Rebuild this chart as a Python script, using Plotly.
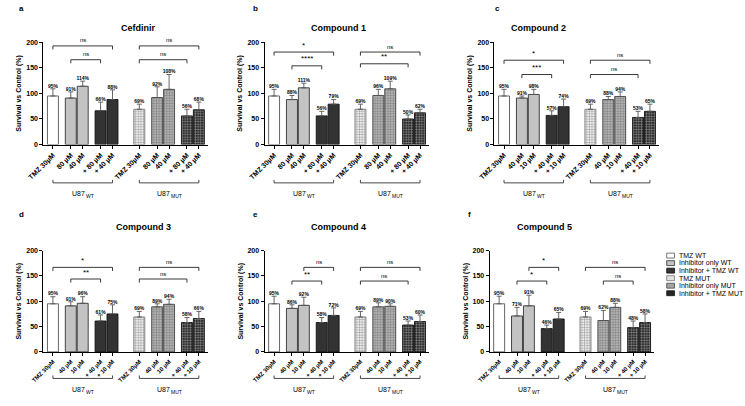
import plotly.graph_objects as go

W, H = 745, 406
FONT = "Liberation Sans, Arial, sans-serif"

# ---------------- data ----------------
panel_letters = ["a", "b", "c", "d", "e", "f"]
panel_titles = ["Cefdinir", "Compound 1", "Compound 2", "Compound 3", "Compound 4", "Compound 5"]

labels_hi = ["TMZ 30µM", "80 µM", "40 µM", "+ 80 µM", "+ 40 µM"]
labels_lo = ["TMZ 30µM", "40 µM", "10 µM", "+ 40 µM", "+ 10 µM"]
tick_labels = [labels_hi * 2, labels_hi * 2, labels_lo * 2, labels_lo * 2, labels_lo * 2, labels_lo * 2]

vals_a = [95, 91, 114, 66, 88, 69, 92, 108, 56, 68]
vals_b = [95, 88, 111, 56, 79, 69, 96, 109, 50, 62]
vals_c = [95, 91, 98, 57, 74, 69, 88, 94, 53, 65]
vals_d = [95, 91, 96, 61, 75, 69, 89, 94, 58, 66]
vals_e = [95, 86, 92, 58, 72, 69, 89, 90, 53, 60]
vals_f = [95, 71, 91, 46, 65, 69, 62, 88, 48, 58]

err_a = [14, 12, 10, 17, 19, 10, 21, 29, 13, 15]
err_b = [13, 8, 9, 9, 9, 10, 12, 15, 8, 7]
err_c = [13, 4, 10, 9, 15, 10, 6, 9, 12, 14]
err_d = [14, 8, 13, 12, 18, 11, 6, 10, 10, 14]
err_e = [15, 7, 16, 10, 15, 11, 8, 5, 8, 13]
err_f = [15, 17, 21, 7, 13, 11, 20, 8, 13, 17]

# significance comparisons: (bar i, bar j, level, label)
sig_a = [(0, 4, 193, "ns"), (1, 3, 166, "ns"), (5, 9, 193, "ns"), (5, 8, 166, "ns")]
sig_b = [(0, 4, 181, "*"), (1, 3, 154, "****"), (5, 9, 181, "ns"), (5, 8, 158, "**")]
sig_c = [(0, 4, 165, "*"), (1, 3, 137, "***"), (5, 9, 165, "ns"), (5, 8, 137, "ns")]
sig_d = [(0, 4, 167, "*"), (1, 3, 144, "**"), (5, 9, 167, "ns"), (5, 8, 144, "ns")]
sig_e = [(2, 4, 167, "ns"), (1, 3, 140, "**"), (5, 9, 167, "ns"), (5, 8, 140, "ns")]
sig_f = [(2, 4, 167, "*"), (1, 3, 140, "*"), (5, 9, 167, "ns"), (6, 8, 140, "ns")]

legend_names = ["TMZ WT", "Inhibitor only WT", "Inhibitor + TMZ WT",
                "TMZ MUT", "Inhibitor only MUT", "Inhibitor + TMZ MUT"]
group_base = ["U87", "U87"]
group_sub = ["WT", "MUT"]

all_vals = [vals_a, vals_b, vals_c, vals_d, vals_e, vals_f]
all_err = [err_a, err_b, err_c, err_d, err_e, err_f]
all_sig = [sig_a, sig_b, sig_c, sig_d, sig_e, sig_f]

# ---------------- styling ----------------
groups = [[0], [1, 2], [3, 4]]
xpos = []
pos = 0.0
for cell in range(2):
    for gi, g in enumerate(groups):
        for k, _ in enumerate(g):
            xpos.append(pos)
            pos += 1.0
        pos += 0.5
    pos += 0.75
off = xpos[0]
xpos = [p - off for p in xpos]

cat_of_bar = [0, 1, 1, 2, 2, 3, 4, 4, 5, 5]
cat_fill = ["#ffffff", "#c3c3c3", "#333333", "#ececec", "#b2b2b2", "#2b2b2b"]
cat_fg = ["#ffffff", "#c3c3c3", "#333333", "#a8a8a8", "#7a7a7a", "#6a6a6a"]
cat_shape = ["", "", "", "+", "+", "+"]
cat_edge = ["#555555", "#333333", "#111111", "#777777", "#444444", "#111111"]

col_px = [(28, 196), (254, 422), (489, 657), (28, 196), (254, 422), (484, 652)]
row_px = [(39, 143), (39, 143), (39, 143), (251, 354), (251, 354), (251, 354)]
xtick_fs = [7, 7, 7, 6, 6, 6]
grp_line_off = [39, 39, 39, 27, 27, 27]
grp_text_off = [50, 50, 50, 38, 38, 38]
title_px = [(105, 17), (330, 17), (564, 17), (100, 227), (330, 227), (570, 227)]
letter_px = [(6, 5), (245, 5), (492, 5), (6, 214), (245, 214), (463, 214)]

BASE_FS, SUB_FS = 7, 5
# rough Liberation Sans advance widths (em units) for centring base+subscript
CW = {"U": 0.722, "8": 0.556, "7": 0.556, "W": 0.944, "T": 0.611, "M": 0.833}


def txt_w(s, fs):
    return sum(CW.get(ch, 0.6) for ch in s) * fs


fig = go.Figure()
shapes = []
annos = []
layout = dict(
    width=W, height=H, margin=dict(l=0, r=0, t=0, b=0),
    paper_bgcolor="white", plot_bgcolor="white",
    font=dict(family=FONT, color="black", size=7), showlegend=False,
)

for p in range(6):
    n = "" if p == 0 else str(p + 1)
    xa, ya = "x" + n, "y" + n
    v, e = all_vals[p], all_err[p]
    fills = [cat_fill[c] for c in cat_of_bar]
    fgs = [cat_fg[c] for c in cat_of_bar]
    shp = [cat_shape[c] for c in cat_of_bar]
    edges = [cat_edge[c] for c in cat_of_bar]
    fig.add_trace(go.Bar(
        x=xpos, y=v, width=0.92, xaxis=xa, yaxis=ya,
        marker=dict(color=fills, line=dict(color=edges, width=0.9),
                    pattern=dict(shape=shp, fgcolor=fgs, bgcolor=fills, size=2.6, solidity=0.35)),
        error_y=dict(type="data", symmetric=False, array=e, arrayminus=[0] * len(e),
                     color="#555555", thickness=0.9, width=2.5),
        hoverinfo="skip", showlegend=False,
    ))
    fig.add_trace(go.Scatter(
        x=xpos, y=[a + b for a, b in zip(v, e)], xaxis=xa, yaxis=ya,
        mode="text", text=[f"<b>{a}%</b>" for a in v], textposition="top center",
        textfont=dict(size=5, family=FONT, color="black"),
        hoverinfo="skip", showlegend=False, cliponaxis=False,
    ))
    x0, x1 = col_px[p]
    y0, y1 = row_px[p]
    layout["xaxis" + n] = dict(
        domain=[x0 / W, x1 / W], range=[-0.8, 13.0], anchor=ya,
        tickmode="array", tickvals=xpos, ticktext=[f"<b>{t}</b>" for t in tick_labels[p]],
        tickangle=-45,
        ticks="outside", ticklen=3, tickwidth=1, tickcolor="black",
        showline=True, linecolor="black", linewidth=1, showgrid=False, zeroline=False,
        tickfont=dict(size=xtick_fs[p], family=FONT, color="black"),
    )
    layout["yaxis" + n] = dict(
        domain=[(H - y1) / H, (H - y0) / H], range=[0, 200], anchor=xa,
        tickmode="array", tickvals=[0, 50, 100, 150, 200],
        ticktext=["<b>0</b>", "<b>50</b>", "<b>100</b>", "<b>150</b>", "<b>200</b>"],
        ticks="outside", ticklen=3, tickwidth=1, tickcolor="black",
        showline=True, linecolor="black", linewidth=1, showgrid=False, zeroline=False,
        tickfont=dict(size=7, family=FONT, color="black"),
        title=dict(text="<b>Survival vs Control (%)</b>", standoff=3,
                   font=dict(size=7, family=FONT, color="black")),
    )
    for (i, j, lvl, lab) in all_sig[p]:
        xi, xj = xpos[i], xpos[j]
        shapes.append(dict(type="path", xref=xa, yref=ya,
                           path=f"M {xi},{lvl-7} L {xi},{lvl} L {xj},{lvl} L {xj},{lvl-7}",
                           line=dict(color="#222222", width=0.9)))
        annos.append(dict(x=(xi + xj) / 2, y=lvl + 1, xref=xa, yref=ya, text=lab,
                          showarrow=False, yanchor="bottom",
                          font=dict(size=6 if lab == "ns" else 8, family=FONT, color="black")))
    ph = y1 - y0
    ly = -grp_line_off[p] / ph
    ty = -grp_text_off[p] / ph
    tick = 3 / ph
    for g in range(2):
        xs, xe = xpos[5 * g], xpos[5 * g + 4]
        shapes.append(dict(type="path", xref=xa, yref=ya + " domain",
                           path=f"M {xs},{ly+tick} L {xs},{ly} L {xe},{ly} L {xe},{ly+tick}",
                           line=dict(color="#333333", width=0.9)))
        wb = txt_w(group_base[g], BASE_FS)
        ws = txt_w(group_sub[g], SUB_FS)
        shift = wb - (wb + ws) / 2
        annos.append(dict(x=(xs + xe) / 2, y=ty, xref=xa, yref=ya + " domain",
                          text=group_base[g], showarrow=False, xanchor="right",
                          yanchor="middle", xshift=shift + 0.5, borderpad=0,
                          font=dict(size=BASE_FS, family=FONT, color="black")))
        annos.append(dict(x=(xs + xe) / 2, y=ty, xref=xa, yref=ya + " domain",
                          text=group_sub[g], showarrow=False, xanchor="left",
                          yanchor="middle", xshift=shift - 0.5, yshift=-2.5, borderpad=0,
                          font=dict(size=SUB_FS, family=FONT, color="black")))
    tx, ty_ = title_px[p]
    annos.append(dict(x=tx / W, y=1 - ty_ / H, xref="paper", yref="paper",
                      text=f"<b>{panel_titles[p]}</b>", showarrow=False,
                      font=dict(size=9, family=FONT, color="black")))
    lx, ly_ = letter_px[p]
    annos.append(dict(x=lx / W, y=1 - ly_ / H, xref="paper", yref="paper",
                      text=f"<b>{panel_letters[p]}</b>", showarrow=False,
                      xanchor="center", yanchor="middle",
                      font=dict(size=8, family=FONT, color="black")))

leg_x0, leg_y0, leg_dy = 665, 256, 7.66
leg_fill = ["#ffffff", "#c3c3c3", "#333333", "#e2e2e2", "#a5a5a5", "#262626"]
for k, name in enumerate(legend_names):
    yc = leg_y0 + k * leg_dy
    shapes.append(dict(type="rect", xref="paper", yref="paper",
                       x0=leg_x0 / W, x1=(leg_x0 + 8) / W,
                       y0=1 - (yc + 2.5) / H, y1=1 - (yc - 2.5) / H,
                       fillcolor=leg_fill[k],
                       line=dict(color=cat_edge[k], width=0.8)))
    annos.append(dict(x=(leg_x0 + 11) / W, y=1 - yc / H, xref="paper", yref="paper",
                      text=name, showarrow=False, xanchor="left", yanchor="middle",
                      font=dict(size=7, family=FONT, color="black")))

layout["shapes"] = shapes
layout["annotations"] = annos
fig.update_layout(**layout)
fig.write_html("out.html")
